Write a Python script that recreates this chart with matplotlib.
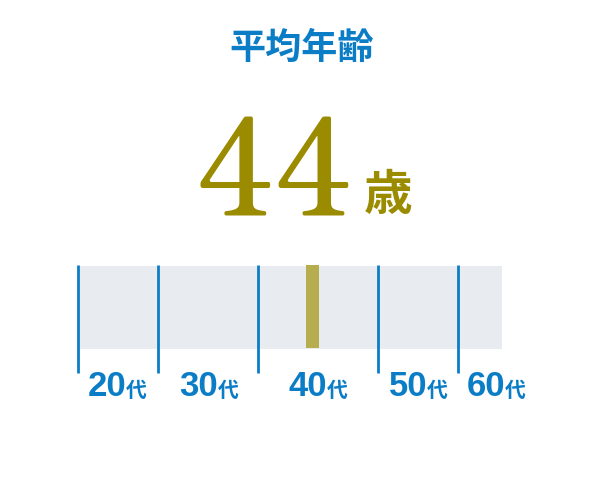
import numpy as np
import matplotlib.pyplot as plt
from matplotlib import font_manager

plt.rcParams['font.family'] = ['Noto Sans CJK JP', 'DejaVu Sans']

# data
title = '平均年齢'
average_age = 44
age_unit = '歳'
decade_ages = [20, 30, 40, 50, 60, 70]
decade_labels = ['20代', '30代', '40代', '50代', '60代']

# layout (pixel coordinates of the graphic)
edge_px = [78, 158, 258, 378, 458, 502]
label_px = [119, 211, 320, 420, 498]
blue = '#0b7dc6'
olive = '#9a8b00'
marker_col = '#b6ad4f'
band_col = '#e8ecf0'

names = {f.name for f in font_manager.fontManager.ttflist}
serif_name = next(n for n in ['Zen Old Mincho', 'Shippori Mincho', 'Liberation Serif', 'DejaVu Serif']
                  if n in names)
serif_fp = font_manager.FontProperties(
    fname=font_manager.findfont(font_manager.FontProperties(family=serif_name, weight='semibold')),
    size=97)
sans_fp = font_manager.FontProperties(
    fname=font_manager.findfont(font_manager.FontProperties(family='Liberation Sans', weight='bold')),
    size=25)

fig = plt.figure(figsize=(6.01, 4.80), dpi=100)
ax = fig.add_axes([0, 0, 1, 1])
ax.set_xlim(0, 601)
ax.set_ylim(480, 0)
ax.axis('off')

def age_to_px(a):
    return np.interp(a, decade_ages, edge_px)

# gray band
ax.barh(307, edge_px[-1] - edge_px[0], left=edge_px[0], height=83,
        color=band_col, zorder=1)

# average age marker
ax.bar(age_to_px(average_age), 83, bottom=265, width=13, align='edge',
       color=marker_col, zorder=2)

# decade separators
for a in decade_ages[:-1]:
    ax.plot([age_to_px(a)] * 2, [265, 373], color=blue, lw=2, zorder=3,
            solid_capstyle='butt')

# decade labels
for lbl, x in zip(decade_labels, label_px):
    num, kanji = lbl[:-1], lbl[-1]
    ax.text(x + 7, 387, num, color=blue, fontproperties=sans_fp,
            ha='right', va='center')
    ax.text(x + 7, 390, kanji, color=blue, fontsize=15, fontweight='bold',
            ha='left', va='center')

# title and big number
ax.text(302, 48, title, color=blue, fontsize=26, fontweight='bold',
        ha='center', va='center')
ax.text(275, 216, str(average_age), color=olive, fontproperties=serif_fp,
        ha='center', va='baseline')
ax.text(388, 196, age_unit, color=olive, fontsize=35, fontweight='bold',
        ha='center', va='center')

fig.savefig('out.png', dpi=100)
